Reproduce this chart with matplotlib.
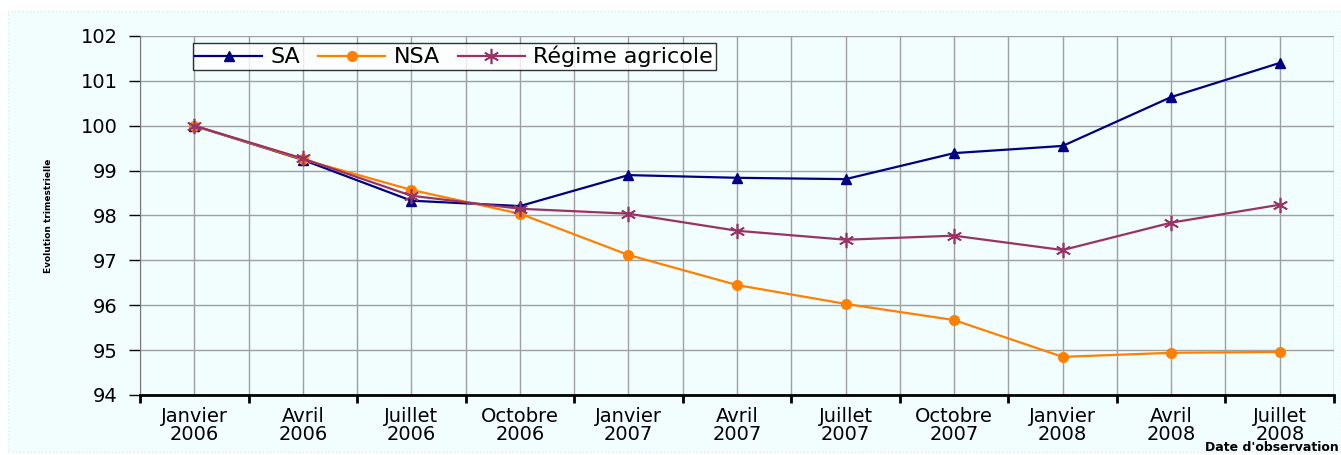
import matplotlib.pyplot as plt

plt.rcParams["font.family"] = ["DejaVu Sans"]

# quarterly index values
quarters = ["Janvier\n2006", "Avril\n2006", "Juillet\n2006", "Octobre\n2006",
            "Janvier\n2007", "Avril\n2007", "Juillet\n2007", "Octobre\n2007",
            "Janvier\n2008", "Avril\n2008", "Juillet\n2008"]
sa = [100.0, 99.24, 98.33, 98.21, 98.90, 98.84, 98.81, 99.39, 99.55, 100.64, 101.40]
nsa = [100.0, 99.25, 98.57, 98.04, 97.12, 96.45, 96.03, 95.67, 94.85, 94.94, 94.96]
agricole = [100.0, 99.27, 98.44, 98.15, 98.04, 97.66, 97.46, 97.55, 97.23, 97.84, 98.24]

bg = "#F2FDFD"
fig = plt.figure(figsize=(13.41, 4.55), dpi=100, facecolor="white")
ax = fig.add_axes([0.1044, 0.1319, 0.8904, 0.789])
fig.patches.append(plt.Rectangle((0.006, 0.006), 0.994, 0.97, transform=fig.transFigure,
                                 facecolor=bg, edgecolor="#DDEFEF", linestyle=":", zorder=-1))
ax.set_facecolor(bg)

x = list(range(len(quarters)))
ax.plot(x, sa, color="#000080", marker="^", markersize=7, linewidth=1.6, label="SA")
ax.plot(x, nsa, color="#FF8000", marker="o", markersize=7, linewidth=1.6, label="NSA")
ax.plot(x, agricole, color="#993366", marker=(6, 2, 0), markersize=11, markeredgewidth=1.2,
        linewidth=1.6, label="Régime agricole")

ax.set_xlim(-0.5, len(quarters) - 0.5)
ax.set_ylim(94, 102)
ax.set_yticks(range(94, 103))
ax.set_xticks([i - 0.5 for i in range(len(quarters) + 1)])
ax.set_xticklabels([])
ax.set_xticks(x, minor=True)
ax.set_xticklabels(quarters, minor=True, fontsize=14, linespacing=0.88)
ax.tick_params(axis="x", which="major", length=6, width=2, direction="out")
ax.tick_params(axis="x", which="minor", length=0, pad=9)
ax.tick_params(axis="y", length=8, width=1, labelsize=14, pad=8)
ax.grid(True, which="both", axis="x", color="#A0A0A0", linewidth=1)
ax.grid(True, which="major", axis="y", color="#A0A0A0", linewidth=1)
ax.set_axisbelow(True)

for side in ["top", "right"]:
    ax.spines[side].set_visible(False)
ax.spines["left"].set_color("#777777")
ax.spines["bottom"].set_linewidth(2)

ax.set_ylabel("Evolution trimestrielle", fontsize=6.5, fontweight="bold", labelpad=20)
fig.text(0.998, 0.002, "Date d'observation", fontsize=9, fontweight="bold",
         ha="right", va="bottom")

leg = ax.legend(loc="upper left", bbox_to_anchor=(0.044, 0.98), ncol=3, fontsize=16,
                frameon=True, fancybox=False, edgecolor="black", borderpad=0.12,
                handlelength=3.0, handletextpad=0.4, columnspacing=0.8, borderaxespad=0)
leg.get_frame().set_linewidth(1)
leg.get_frame().set_facecolor("white")

fig.savefig("out.png", dpi=100, facecolor=fig.get_facecolor())
